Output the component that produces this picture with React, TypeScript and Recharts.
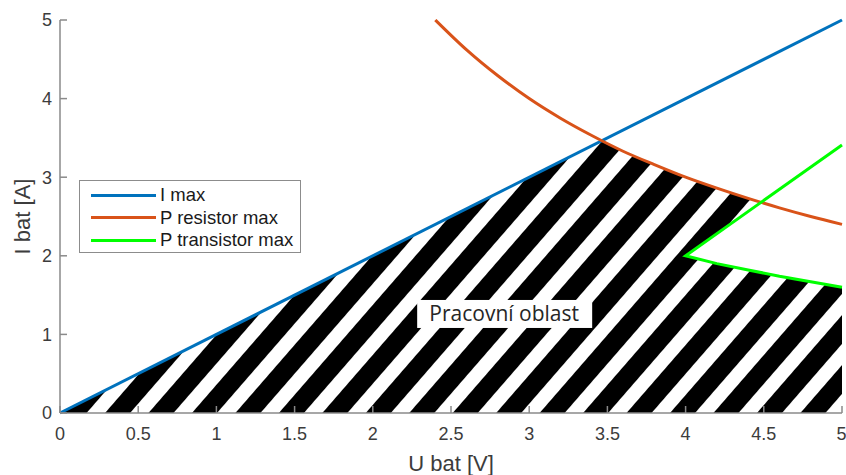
import { ComposedChart, Line, Area, XAxis, YAxis, Legend, ReferenceDot } from 'recharts'

// current limit line
const limitU = [0, 5]
const limitI = [0, 5]

// resistor power limit
const resistorU = [2.4, 2.6, 2.8, 3.0, 3.2, 3.4, 3.6, 3.8, 4.0, 4.2, 4.4, 4.6, 4.8, 5.0]
const resistorI = [5.0, 4.62, 4.29, 4.0, 3.75, 3.53, 3.33, 3.16, 3.0, 2.86, 2.73, 2.61, 2.5, 2.4]

// transistor power limit (upper arm, then lower arm)
const transistorU = [5.0, 4.0, 4.2, 4.4, 4.6, 4.8, 5.0]
const transistorI = [3.41, 2.0, 1.9, 1.82, 1.74, 1.67, 1.6]

// boundary of the working area
const areaU = [0, 3.46, 3.6, 3.8, 4.0, 4.2, 4.4, 4.48, 4.0, 4.2, 4.4, 4.6, 4.8, 5.0]
const areaI = [0, 3.46, 3.33, 3.16, 3.0, 2.86, 2.73, 2.68, 2.0, 1.9, 1.82, 1.74, 1.67, 1.6]

const xTicks = [0, 0.5, 1, 1.5, 2, 2.5, 3, 3.5, 4, 4.5, 5]
const yTicks = [0, 1, 2, 3, 4, 5]

const zip = (u: number[], i: number[]) => u.map((v, k) => ({ u: v, i: i[k] }))

const limitData = zip(limitU, limitI)
const resistorData = zip(resistorU, resistorI)
const transistorData = zip(transistorU, transistorI)
const areaData = zip(areaU, areaI)

const FONT = '"Liberation Sans", Arial, sans-serif'
const AXIS = '#8a8a8a'
const TEXT = '#3c3c3c'

const renderLegend = (props: any) => (
  <div
    style={{
      border: '1px solid #8c8c8c',
      background: '#fff',
      width: 222,
      height: 73,
      boxSizing: 'border-box',
      padding: '3px 0 0 11px',
      fontFamily: FONT,
      fontSize: 18.5,
      color: '#1a1a1a',
    }}
  >
    {props.payload
      ?.filter((e: any) => e.type !== 'none')
      .map((e: any, idx: number) => (
        <div key={idx} style={{ display: 'flex', alignItems: 'center', height: 22.5 }}>
          <div style={{ width: 65, height: 3, background: e.color, marginRight: 4 }} />
          <span style={{ lineHeight: '22px' }}>{e.value}</span>
        </div>
      ))}
  </div>
)

const AreaLabel = (props: any) => {
  const { cx, cy } = props
  return (
    <g>
      <rect x={cx - 87} y={cy - 14} width={175} height={28} fill="#fff" />
      <text
        x={cx}
        y={cy + 7}
        textAnchor="middle"
        fontFamily='"Open Sans", sans-serif'
        fontSize={21}
        fill="#262626"
      >
        Pracovní oblast
      </text>
    </g>
  )
}

export default function App() {
  return (
    <div style={{ position: 'absolute', left: 0, top: 0, background: '#fff' }}>
      <ComposedChart width={846} height={475} margin={{ top: 20, right: 4, bottom: 0, left: 0 }}>
        <defs>
          <pattern
            id="hatch"
            patternUnits="userSpaceOnUse"
            width={32.8}
            height={100}
            patternTransform="translate(105 413) rotate(41)"
          >
            <rect x={0} y={0} width={18.9} height={100} fill="#000" />
          </pattern>
        </defs>
        <XAxis
          type="number"
          dataKey="u"
          domain={[0, 5]}
          ticks={xTicks}
          height={62}
          tickSize={-7}
          tickMargin={21}
          axisLine={{ stroke: AXIS, strokeWidth: 1.5 }}
          tickLine={{ stroke: AXIS, strokeWidth: 1.5 }}
          tick={{ fill: TEXT, fontSize: 18, fontFamily: FONT }}
          label={{
            content: (p: any) => {
              const vb = p.viewBox
              return (
                <text
                  x={vb.x + vb.width / 2}
                  y={vb.y + 58}
                  textAnchor="middle"
                  fontFamily={FONT}
                  fontSize={22}
                  fill={TEXT}
                >
                  U bat [V]
                </text>
              )
            },
          }}
        />
        <YAxis
          type="number"
          domain={[0, 5]}
          ticks={yTicks}
          width={60}
          tickSize={-7}
          tickMargin={15}
          axisLine={{ stroke: AXIS, strokeWidth: 1.5 }}
          tickLine={{ stroke: AXIS, strokeWidth: 1.5 }}
          tick={{ fill: TEXT, fontSize: 18, fontFamily: FONT }}
          label={{
            content: (p: any) => {
              const vb = p.viewBox
              const x = vb.x + 30
              const y = vb.y + vb.height / 2
              return (
                <text
                  x={x}
                  y={y}
                  transform={`rotate(-90 ${x} ${y})`}
                  textAnchor="middle"
                  fontFamily={FONT}
                  fontSize={22}
                  fill={TEXT}
                >
                  I bat [A]
                </text>
              )
            },
          }}
        />
        <Area
          data={areaData}
          dataKey="i"
          type="linear"
          fill="url(#hatch)"
          fillOpacity={1}
          stroke="none"
          baseValue={0}
          legendType="none"
          isAnimationActive={false}
        />
        <ReferenceDot x={2.84} y={1.26} ifOverflow="visible" shape={AreaLabel} />
        <Line
          data={limitData}
          dataKey="i"
          name="I max"
          type="linear"
          stroke="#0072BD"
          strokeWidth={3}
          dot={false}
          isAnimationActive={false}
        />
        <Line
          data={resistorData}
          dataKey="i"
          name="P resistor max"
          type="monotone"
          stroke="#D95319"
          strokeWidth={3}
          dot={false}
          isAnimationActive={false}
        />
        <Line
          data={transistorData}
          dataKey="i"
          name="P transistor max"
          type="linear"
          stroke="#00FF00"
          strokeWidth={3}
          dot={false}
          isAnimationActive={false}
        />
        <Legend
          layout="horizontal"
          verticalAlign="middle"
          align="center"
          content={renderLegend}
          wrapperStyle={{ left: 79, top: 180, width: 222 }}
        />
      </ComposedChart>
    </div>
  )
}
